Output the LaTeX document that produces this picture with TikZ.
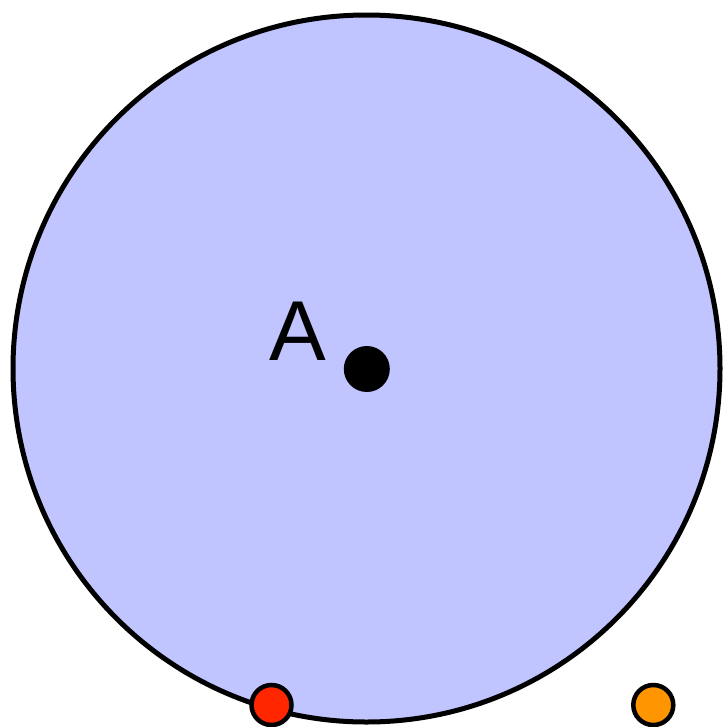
\documentclass[tikz,border=0pt]{standalone}
\usepackage{fontspec}
\setmainfont{Liberation Sans}
\definecolor{disc}{RGB}{192,196,255}
\definecolor{redpt}{RGB}{255,38,0}
\definecolor{orangept}{RGB}{255,149,0}
\begin{document}
\begin{tikzpicture}[x=1pt,y=-1pt,
  pt/.style={circle,draw=black,line width=4.5pt,minimum size=40pt,inner sep=0pt}]
\useasboundingbox (0,0) rectangle (728,726);
\fill[disc] (366.5,368.5) circle[radius=353.5];
\draw[line width=5pt] (366.5,368.5) circle[radius=353.5];
\node[circle,fill=black,minimum size=46pt,inner sep=0pt] (A) at (366.8,369) {};
\node[anchor=base,inner sep=0pt,font=\fontsize{85}{85}\selectfont] (Alabel) at (298,360) {A};
\node[pt,fill=redpt] (R) at (271.5,705) {};
\node[pt,fill=orangept] (O) at (653.3,705) {};
\end{tikzpicture}
\end{document}
